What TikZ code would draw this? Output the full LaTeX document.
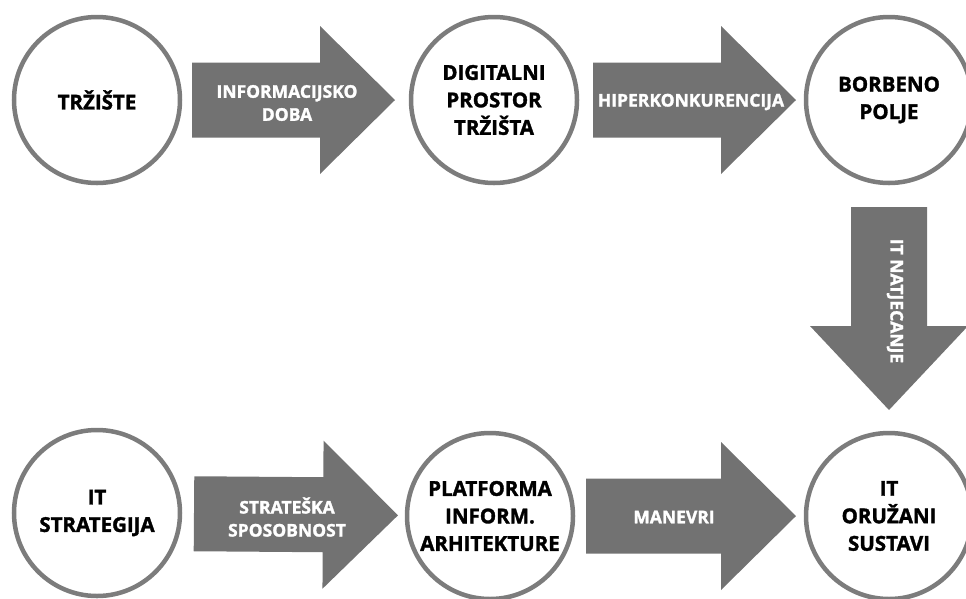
\documentclass[tikz,border=0pt]{standalone}
\usepackage{fontspec}
\setsansfont{Open Sans}[BoldFeatures={FakeBold=1.6}]
\usepackage{xcolor}
\usepackage{tikz}
\usetikzlibrary{calc}
\definecolor{arrowgray}{HTML}{727272}
\definecolor{ringgray}{HTML}{7C7C7C}
\tikzset{
  tail gap/.store in=\tailgap, tip gap/.store in=\tipgap,
  head len/.store in=\headlen, body half/.store in=\bodyhalf,
  head half/.store in=\headhalf,
  tail gap=96pt, tip gap=96pt, head len=75pt, body half=37.5pt, head half=74pt,
  stage/.style = {circle, draw=ringgray, line width=4.5pt, fill=white,
    minimum size=166pt, inner sep=0pt, align=center, text=black,
    font=\sffamily\bfseries\fontsize{20.5}{27.5}\selectfont},% krug
  arrowlabel/.style = {align=center, inner sep=0pt, text=white,
    font=\sffamily\bfseries\fontsize{17.5}{23}\selectfont},% tekst na strelici
  blockarrow/.style = {fill=arrowgray, to path={
    ($(\tikztostart)!\tailgap!(\tikztotarget)!\bodyhalf!90:(\tikztotarget)$)
    -- ($(\tikztotarget)!\tipgap!(\tikztostart)!\headlen!(\tikztostart)!\bodyhalf!-90:(\tikztostart)$)
    -- ($(\tikztotarget)!\tipgap!(\tikztostart)!\headlen!(\tikztostart)!\headhalf!-90:(\tikztostart)$)
    -- ($(\tikztotarget)!\tipgap!(\tikztostart)$)
    -- ($(\tikztotarget)!\tipgap!(\tikztostart)!\headlen!(\tikztostart)!\headhalf!90:(\tikztostart)$)
    -- ($(\tikztotarget)!\tipgap!(\tikztostart)!\headlen!(\tikztostart)!\bodyhalf!90:(\tikztostart)$)
    -- ($(\tikztostart)!\tailgap!(\tikztotarget)!\bodyhalf!-90:(\tikztotarget)$)
    -- cycle}}% debela strelica
}

\begin{document}
\begin{tikzpicture}[x=1pt, y=-1pt]
\useasboundingbox (0,0) rectangle (966,598);
% krugovi
\node [stage] (trziste)    at (97,100)  {TRŽIŠTE};
\node [stage] (digitalni)  at (494,100) {DIGITALNI\\PROSTOR\\TRŽIŠTA};
\node [stage] (borbeno)    at (889,100) {BORBENO\\POLJE};
\node [stage] (strategija) at (97,513)  {IT\\STRATEGIJA};
\node [stage] (platforma)  at (490,516) {PLATFORMA\\INFORM.\\ARHITEKTURE};
\node [stage] (oruzani)    at (889,516) {IT\\ORUŽANI\\SUSTAVI};
% strelice
\path [blockarrow, tail gap=95pt, tip gap=99pt] (trziste) to (digitalni);
\path [blockarrow, tail gap=99pt, tip gap=93pt] (digitalni) to (borbeno);
\path [blockarrow, tail gap=107pt, tip gap=106pt, head len=84pt,
  body half=38pt, head half=79pt] (borbeno) to (oruzani);
\path [blockarrow, tail gap=97pt, tip gap=92pt] (strategija) to (platforma);
\path [blockarrow, tail gap=96pt, tip gap=93pt] (platforma) to (oruzani);
% natpisi
\node [arrowlabel] (informacijsko) at (287,103) {INFORMACIJSKO\\DOBA};
\node [arrowlabel] (hiper) at (691,102) {HIPERKONKURENCIJA};
\node [arrowlabel, rotate=-90] (natjecanje) at (895,301) {IT NATJECANJE};
\node [arrowlabel] (strateska) at (287,517) {STRATEŠKA\\SPOSOBNOST};
\node [arrowlabel] (manevri) at (674,517) {MANEVRI};
\end{tikzpicture}
\end{document}
